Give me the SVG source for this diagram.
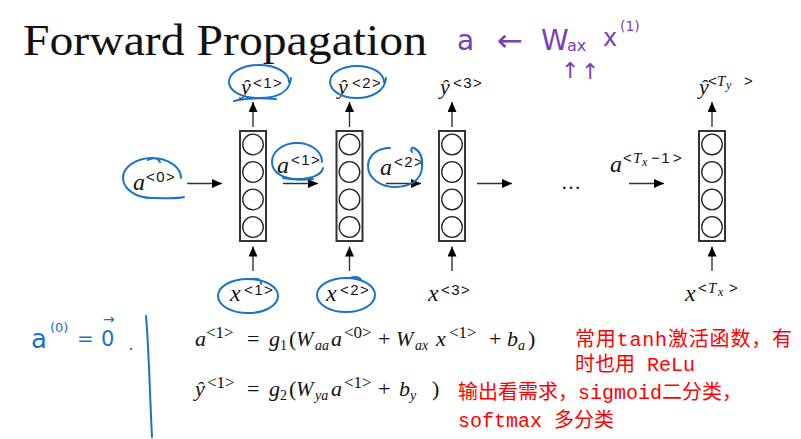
<svg xmlns="http://www.w3.org/2000/svg" width="801" height="439" viewBox="0 0 801 439">
<style>
.title{font-family:"Liberation Serif",serif;font-size:45px;fill:#111}
.mi{font-family:"Liberation Serif",serif;font-style:italic;fill:#111}
.rm{font-family:"Liberation Serif",serif;fill:#111}
.sup{font-family:"Liberation Sans",sans-serif;font-size:15px;letter-spacing:1.5px;fill:#111}
.esup{font-family:"Liberation Serif",serif;font-size:17px;fill:#111}
.box{fill:#fff;stroke:#333;stroke-width:2}
.unit{fill:none;stroke:#222;stroke-width:1.3}
.conn{stroke:#333;stroke-width:1.4;fill:none}
.ink{fill:none;stroke:#1a73c4;stroke-width:2;stroke-linecap:round;stroke-linejoin:round}
.blue{font-family:"DejaVu Sans",sans-serif;fill:#1a73c4}
.purple{font-family:"DejaVu Sans",sans-serif;fill:#7a3fb6}
.note{font-family:"Liberation Mono","Noto Sans CJK SC",monospace;font-size:20px;fill:#f00}
</style>
<defs>
<marker id="ah" markerWidth="10" markerHeight="9" refX="10" refY="4.5" orient="auto" markerUnits="userSpaceOnUse"><path d="M0,0 L10,4.5 L0,9 Z" fill="#000"/></marker>
<g id="cell"><rect class="box" x="0" y="0" width="26" height="110"/><circle class="unit" cx="13" cy="13.5" r="10.3"/><circle class="unit" cx="13" cy="41" r="10.3"/><circle class="unit" cx="13" cy="68.5" r="10.3"/><circle class="unit" cx="13" cy="96" r="10.3"/></g>
</defs>
<rect width="801" height="439" fill="#fff"/>
<text class="title" x="23" y="55" textLength="404" lengthAdjust="spacingAndGlyphs">Forward Propagation</text>

<g id="connectors">
<line class="conn" x1="187" y1="183.5" x2="222" y2="183.5" marker-end="url(#ah)"/>
<line class="conn" x1="283" y1="183.5" x2="318" y2="183.5" marker-end="url(#ah)"/>
<line class="conn" x1="386" y1="183.5" x2="421" y2="183.5" marker-end="url(#ah)"/>
<line class="conn" x1="477" y1="183.5" x2="512" y2="183.5" marker-end="url(#ah)"/>
<line class="conn" x1="629" y1="183.5" x2="664" y2="183.5" marker-end="url(#ah)"/>
<line class="conn" x1="253" y1="127" x2="253" y2="102" marker-end="url(#ah)"/>
<line class="conn" x1="349.5" y1="127" x2="349.5" y2="102" marker-end="url(#ah)"/>
<line class="conn" x1="452" y1="127" x2="452" y2="102" marker-end="url(#ah)"/>
<line class="conn" x1="712" y1="127" x2="712" y2="102" marker-end="url(#ah)"/>
<line class="conn" x1="253" y1="271" x2="253" y2="246.5" marker-end="url(#ah)"/>
<line class="conn" x1="349.5" y1="271" x2="349.5" y2="246.5" marker-end="url(#ah)"/>
<line class="conn" x1="452" y1="271" x2="452" y2="246.5" marker-end="url(#ah)"/>
<line class="conn" x1="712" y1="271" x2="712" y2="246.5" marker-end="url(#ah)"/>
</g>

<g id="cell1"><use href="#cell" x="240" y="131"/></g>
<g id="cell2"><use href="#cell" x="336.5" y="131"/></g>
<g id="cell3"><use href="#cell" x="439" y="131"/></g>
<g id="cellTx"><use href="#cell" x="699" y="131"/></g>

<g id="label-a0"><text class="mi" x="133" y="190" font-size="24">a</text><text class="sup" x="146" y="182">&lt;0&gt;</text></g>
<g id="label-a1"><text class="mi" x="277" y="173" font-size="24">a</text><text class="sup" x="291" y="165">&lt;1&gt;</text></g>
<g id="label-a2"><text class="mi" x="380" y="175" font-size="24">a</text><text class="sup" x="394" y="167">&lt;2&gt;</text></g>
<g id="label-aTx"><text class="mi" x="610" y="172" font-size="24">a</text><text x="623" y="163"><tspan class="sup" letter-spacing="0">&lt;</tspan><tspan class="mi" x="633" font-size="15">T</tspan><tspan class="mi" x="642" y="166" font-size="12">x</tspan><tspan class="sup" x="651" y="163" letter-spacing="0">−1</tspan><tspan class="sup" x="673" letter-spacing="0">&gt;</tspan></text></g>
<text id="dots" class="rm" x="561" y="189" font-size="20">…</text>

<g id="label-y1"><text class="mi" x="241" y="94" font-size="22">ŷ</text><text class="sup" x="253" y="88">&lt;1&gt;</text></g>
<g id="label-y2"><text class="mi" x="338" y="94" font-size="22">ŷ</text><text class="sup" x="352" y="88">&lt;2&gt;</text></g>
<g id="label-y3"><text class="mi" x="440" y="94" font-size="22">ŷ</text><text class="sup" x="453" y="88">&lt;3&gt;</text></g>
<g id="label-yTy"><text class="mi" x="699" y="94" font-size="22">ŷ</text><text x="708" y="86"><tspan class="sup" letter-spacing="0">&lt;</tspan><tspan class="mi" x="717" font-size="15">T</tspan><tspan class="mi" x="726" y="89" font-size="12">y</tspan><tspan class="sup" x="744" y="86" letter-spacing="0">&gt;</tspan></text></g>

<g id="label-x1"><text class="mi" x="230" y="301" font-size="24">x</text><text class="sup" x="244" y="295">&lt;1&gt;</text></g>
<g id="label-x2"><text class="mi" x="326" y="301" font-size="24">x</text><text class="sup" x="340" y="295">&lt;2&gt;</text></g>
<g id="label-x3"><text class="mi" x="428" y="301" font-size="24">x</text><text class="sup" x="441" y="295">&lt;3&gt;</text></g>
<g id="label-xTx"><text class="mi" x="685" y="301" font-size="24">x</text><text x="698" y="293"><tspan class="sup" letter-spacing="0">&lt;</tspan><tspan class="mi" x="708" font-size="15">T</tspan><tspan class="mi" x="718" y="296" font-size="12">x</tspan><tspan class="sup" x="729" y="293" letter-spacing="0">&gt;</tspan></text></g>

<g id="equation1">
<text class="mi" x="195" y="346" font-size="22">a</text>
<text class="esup" x="206" y="338">&lt;1&gt;</text>
<text class="rm" x="247" y="346" font-size="22">=</text>
<text class="mi" x="269" y="346" font-size="22">g</text><text class="rm" x="280" y="350" font-size="14">1</text>
<text class="rm" x="289" y="346" font-size="22">(</text>
<text class="mi" x="296" y="346" font-size="21">W</text><text class="mi" x="315" y="350" font-size="14">aa</text>
<text class="mi" x="331" y="346" font-size="22">a</text><text class="esup" x="344" y="338">&lt;0&gt;</text>
<text class="rm" x="378" y="346" font-size="22">+</text>
<text class="mi" x="396" y="346" font-size="21">W</text><text class="mi" x="415" y="350" font-size="14">ax</text>
<text class="mi" x="436" y="346" font-size="22">x</text><text class="esup" x="449" y="338">&lt;1&gt;</text>
<text class="rm" x="489" y="346" font-size="22">+</text>
<text class="mi" x="507" y="346" font-size="22">b</text><text class="mi" x="518" y="350" font-size="14">a</text>
<text class="rm" x="528" y="346" font-size="22">)</text>
</g>
<g id="equation2">
<text class="mi" x="195" y="396" font-size="22">ŷ</text>
<text class="esup" x="207" y="388">&lt;1&gt;</text>
<text class="rm" x="247" y="396" font-size="22">=</text>
<text class="mi" x="269" y="396" font-size="22">g</text><text class="rm" x="280" y="400" font-size="14">2</text>
<text class="rm" x="289" y="396" font-size="22">(</text>
<text class="mi" x="296" y="396" font-size="21">W</text><text class="mi" x="315" y="400" font-size="14">ya</text>
<text class="mi" x="331" y="396" font-size="22">a</text><text class="esup" x="344" y="388">&lt;1&gt;</text>
<text class="rm" x="378" y="396" font-size="22">+</text>
<text class="mi" x="399" y="396" font-size="22">b</text><text class="mi" x="410" y="400" font-size="14">y</text>
<text class="rm" x="432" y="396" font-size="22">)</text>
</g>

<g id="notes">
<text class="note" x="575" y="346" textLength="217" lengthAdjust="spacing">常用tanh激活函数，有</text>
<text class="note" x="575" y="371">时也用 ReLu</text>
<text class="note" x="458" y="399">输出看需求，sigmoid二分类，</text>
<text class="note" x="458" y="427">softmax 多分类</text>
</g>

<g id="handwriting">
<path class="ink" d="M 289 82 C 289 72.6 275.6 65 259 65 C 242.4 65 229 72.6 229 82 C 229 91.4 242.4 98 259 98 C 275.6 98 290 93 291 78 M 234 101 C 245 98 262 98 276 99"/>
<path class="ink" d="M 384 82 C 384 73.2 372 66 357 66 C 342 66 330 73.2 330 82 C 330 90.8 342 98 357 98 C 372 98 385 91 386 78"/>
<path class="ink" d="M 181 178 C 181 167 168 158 152 158 C 136 158 123 167 123 178 C 123 189 136 198 152 198 C 168 198 178 199 184 197 M 148 160 C 153 157 158 158 160 162"/>
<path class="ink" d="M 322 162 C 322 151.5 311 143 297 143 C 283 143 272 151.5 272 162 C 272 172.5 283 179 297 179 C 311 179 322 175 323 168 M 283 178 C 293 180 305 180 313 179"/>
<path class="ink" d="M 390 148 C 378 148 368 155 368 166 C 368 178 380 187 395 187 C 410 187 421 180 422 168 C 423 158 420 151 414 148 C 412 147 410 149 412 152"/>
<path class="ink" d="M 278 296 C 278 286.6 264.6 279 248 279 C 231.4 279 218 286.6 218 296 C 218 305.4 231.4 313 248 313 C 264.6 313 278 305.4 278 296 M 252 279 C 258 278 262 280 261 284"/>
<path class="ink" d="M 375 295 C 375 285.6 362 278 346 278 C 330 278 317 285.6 317 295 C 317 304.4 330 312 346 312 C 362 312 375 304.4 375 295 M 350 278 C 355 276 360 277 361 280"/>
<path class="ink" d="M 146 316 C 149 350 150 400 152 437"/>
<text class="blue" x="31" y="348" font-size="26">a</text>
<text class="blue" x="50" y="332" font-size="13">(0)</text>
<text class="blue" x="77" y="345" font-size="20">=</text>
<text class="blue" x="101" y="346" font-size="21">0</text>
<text class="blue" x="103" y="324" font-size="14">→</text>
<text class="blue" x="128" y="350" font-size="18">.</text>
<text class="purple" x="457" y="50" font-size="28">a</text>
<text class="purple" x="497" y="51" font-size="31">←</text>
<text class="purple" x="541" y="50" font-size="28">W</text>
<text class="purple" x="567" y="51" font-size="16">ax</text>
<text class="purple" x="603" y="46" font-size="24">x</text>
<text class="purple" x="620" y="31" font-size="14">(1)</text>
<text class="purple" x="561" y="78" font-size="22">↑</text>
<text class="purple" x="581" y="79" font-size="22">↑</text>
</g>
</svg>
